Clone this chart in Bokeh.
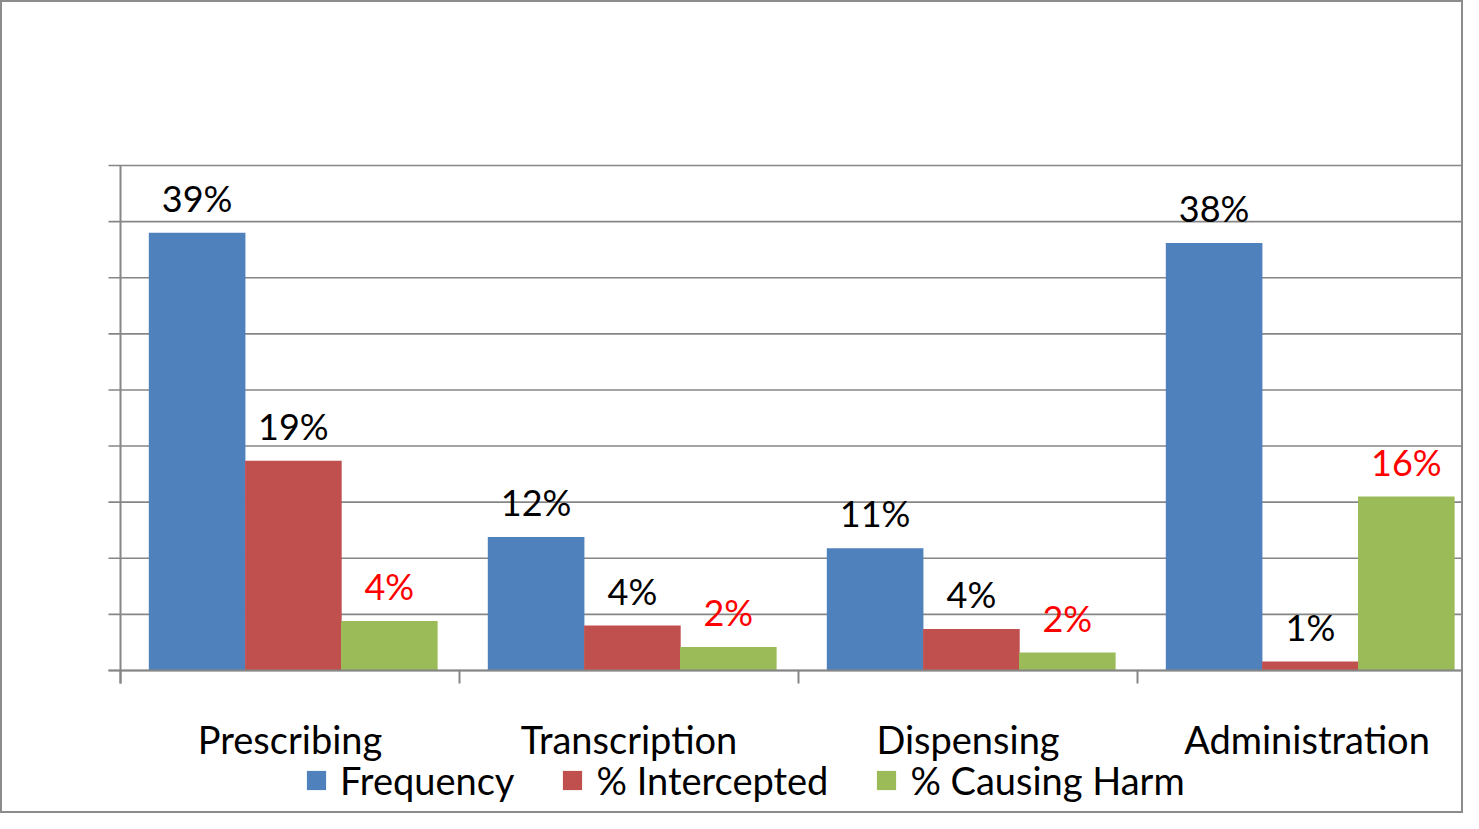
import numpy as np
from bokeh.plotting import figure
from bokeh.models import Range1d, Legend, LegendItem, ColumnDataSource
from bokeh.core.properties import value
from bokeh.embed import file_html
from bokeh.resources import INLINE

categories = ["Prescribing", "Transcription", "Dispensing", "Administration"]
series = ["Frequency", "% Intercepted", "% Causing Harm"]
frequency = [39.0, 11.9, 10.9, 38.1]
intercepted = [18.7, 4.0, 3.7, 0.8]
harm = [4.4, 2.1, 1.6, 15.5]
frequency_labels = ["39%", "12%", "11%", "38%"]
intercepted_labels = ["19%", "4%", "4%", "1%"]
harm_labels = ["4%", "2%", "2%", "16%"]
y_ticks = [0, 5, 10, 15, 20, 25, 30, 35, 40, 45]

colors = ["#4F81BD", "#C0504D", "#9BBB59"]
label_colors = ["black", "black", "#FF0000"]
offsets = [0.226, 0.51, 0.793]
bar_w = 0.285
FONT = "Lato"
AXIS_COLOR = "#868686"

W, H = 1463, 813
# plot-area geometry in screen px (frame spans the whole figure)
area_left, area_top, area_bottom = 118, 163, 668
ppx = 339.0                                   # px per category
ppy = (area_bottom - area_top) / max(y_ticks)  # px per percent

x_start = -area_left / ppx
x_end = (W - area_left) / ppx
y_start = -(H - area_bottom) / ppy
y_end = area_bottom / ppy

p = figure(width=W, height=H, output_backend="svg", toolbar_location=None,
           x_range=Range1d(x_start, x_end), y_range=Range1d(y_start, y_end),
           x_axis_location=None, y_axis_location=None,
           min_border=0, min_border_left=0, min_border_right=0,
           min_border_top=0, min_border_bottom=0)
p.outline_line_color = None
p.xgrid.visible = False
p.ygrid.visible = False
p.background_fill_color = "white"
p.border_fill_color = "white"
p.styles = {"border": "2px solid #8c8c8c", "box-sizing": "border-box"}

# horizontal gridlines with their left ticks
tick_len_x = 12 / ppx
p.segment(x0=[-tick_len_x] * len(y_ticks), x1=[x_end] * len(y_ticks),
          y0=y_ticks, y1=y_ticks, line_color=AXIS_COLOR, line_width=1.6)

idx = np.arange(len(categories))
renderers = []
for vals, labs, col, lcol, off in zip([frequency, intercepted, harm],
                                      [frequency_labels, intercepted_labels, harm_labels],
                                      colors, label_colors, offsets):
    src = ColumnDataSource(dict(x=idx + off, top=vals, lab=labs))
    r = p.vbar(x="x", top="top", width=bar_w, bottom=0, source=src,
               fill_color=col, line_color=None)
    renderers.append(r)
    p.text(x="x", y="top", text="lab", source=src, text_align="center",
           text_baseline="alphabetic", y_offset=-35, text_color=lcol,
           text_font=value(FONT), text_font_size="36px")

# axes drawn on top
tick_len_y = 13 / ppy
bounds = np.arange(len(categories) + 1, dtype=float)
p.segment(x0=[0], x1=[0], y0=[-tick_len_y], y1=[max(y_ticks)],
          line_color=AXIS_COLOR, line_width=2)
p.segment(x0=[-tick_len_x], x1=[x_end], y0=[0], y1=[0],
          line_color=AXIS_COLOR, line_width=2)
p.segment(x0=bounds, x1=bounds, y0=[0] * len(bounds), y1=[-tick_len_y] * len(bounds),
          line_color=AXIS_COLOR, line_width=2)

# category labels
p.text(x=idx + 0.5, y=[0] * len(categories), text=categories, text_align="center",
       text_baseline="middle", y_offset=68, text_color="black",
       text_font=value(FONT), text_font_size="38px")

legend = Legend(items=[LegendItem(label=s, renderers=[r]) for s, r in zip(series, renderers)],
                orientation="horizontal", location=(302, 12),
                glyph_width=24, glyph_height=24, label_standoff=12, spacing=46,
                padding=0, margin=0, border_line_color=None, background_fill_alpha=0,
                label_text_font=FONT, label_text_font_size="38px",
                label_text_color="black")
p.add_layout(legend, "center")

open("out.html", "w").write(file_html(p, INLINE))
